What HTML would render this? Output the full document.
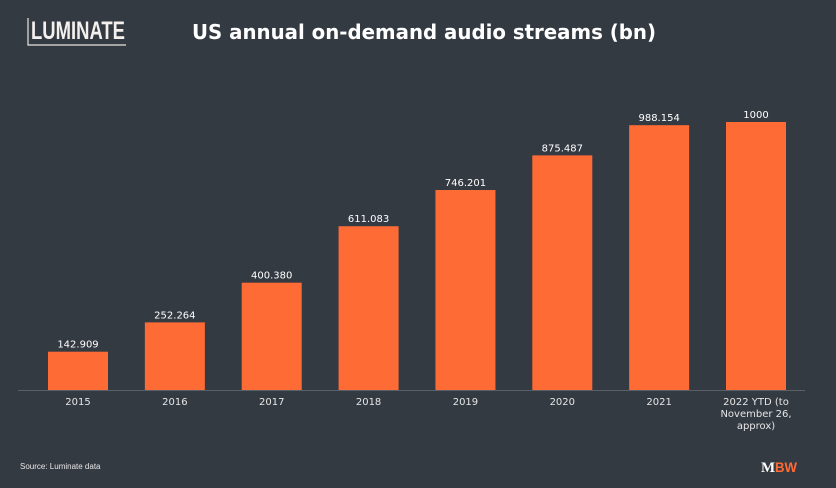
<!DOCTYPE html>
<html><head><meta charset="utf-8"><style>
body{margin:0;width:836px;height:488px;background:#343a42;overflow:hidden;font-family:"Liberation Sans","DejaVu Sans",sans-serif}
svg{display:block}
</style></head><body>
<svg width="836" height="488" xmlns="http://www.w3.org/2000/svg">
<rect width="836" height="488" fill="#343a42"/>
<g>
<text x="31" y="39" font-family="Liberation Sans, sans-serif" font-weight="bold" font-size="25" fill="#f4f0ee" textLength="94" lengthAdjust="spacingAndGlyphs">LUMINATE</text>
<path d="M28 18 V45 H126" stroke="#e8e4e0" stroke-width="1.2" fill="none"/>
</g>
<text x="424" y="39" text-anchor="middle" font-family="DejaVu Sans, sans-serif" font-weight="bold" font-size="20" fill="#ffffff" textLength="464" lengthAdjust="spacingAndGlyphs">US annual on-demand audio streams (bn)</text>
<line x1="18" y1="390.5" x2="805" y2="390.5" stroke="#5a6068" stroke-width="1"/>
<g id="bars"></g>
<text x="20" y="469" font-size="8" fill="#e8e8e8">Source: Luminate data</text>
<g>
<text x="761" y="472" font-family="Liberation Serif, serif" font-weight="bold" font-size="15" fill="#ffffff">M</text>
<text x="775" y="472" font-family="Liberation Sans, sans-serif" font-weight="bold" font-size="14" fill="#ff6b35" textLength="22" lengthAdjust="spacingAndGlyphs">BW</text>
</g>
</svg>
<script>
const categories=["2015","2016","2017","2018","2019","2020","2021","2022 YTD (to|November 26,|approx)"];
const values=[142.909,252.264,400.380,611.083,746.201,875.487,988.154,1000];
const valueLabels=["142.909","252.264","400.380","611.083","746.201","875.487","988.154","1000"];
const NS="http://www.w3.org/2000/svg";
const g=document.getElementById("bars");
const base=390, yScale=v=>base-v*0.268;
const xCenter=i=>78+i*96.86;
const bw=60;
values.forEach((v,i)=>{
  const r=document.createElementNS(NS,"rect");
  r.setAttribute("x",xCenter(i)-bw/2);r.setAttribute("y",yScale(v));
  r.setAttribute("width",bw);r.setAttribute("height",base-yScale(v));
  r.setAttribute("fill","#ff6b35");
  
  
  g.appendChild(r);
  const t=document.createElementNS(NS,"text");
  t.setAttribute("x",xCenter(i));t.setAttribute("y",yScale(v)-4);
  t.setAttribute("text-anchor","middle");t.setAttribute("font-size","10");
  t.setAttribute("font-family","DejaVu Sans, sans-serif");
  t.setAttribute("fill","#ffffff");t.textContent=valueLabels[i];
  
  
  g.appendChild(t);
  categories[i].split("|").forEach((line,j)=>{
    const c=document.createElementNS(NS,"text");
    c.setAttribute("x",xCenter(i));c.setAttribute("y",405+j*12);
    c.setAttribute("text-anchor","middle");c.setAttribute("font-size","10");
    c.setAttribute("font-family","DejaVu Sans, sans-serif");
    c.setAttribute("fill","#e6e6e6");c.textContent=line;
    
    
    g.appendChild(c);
  });
});
</script>
</body></html>
